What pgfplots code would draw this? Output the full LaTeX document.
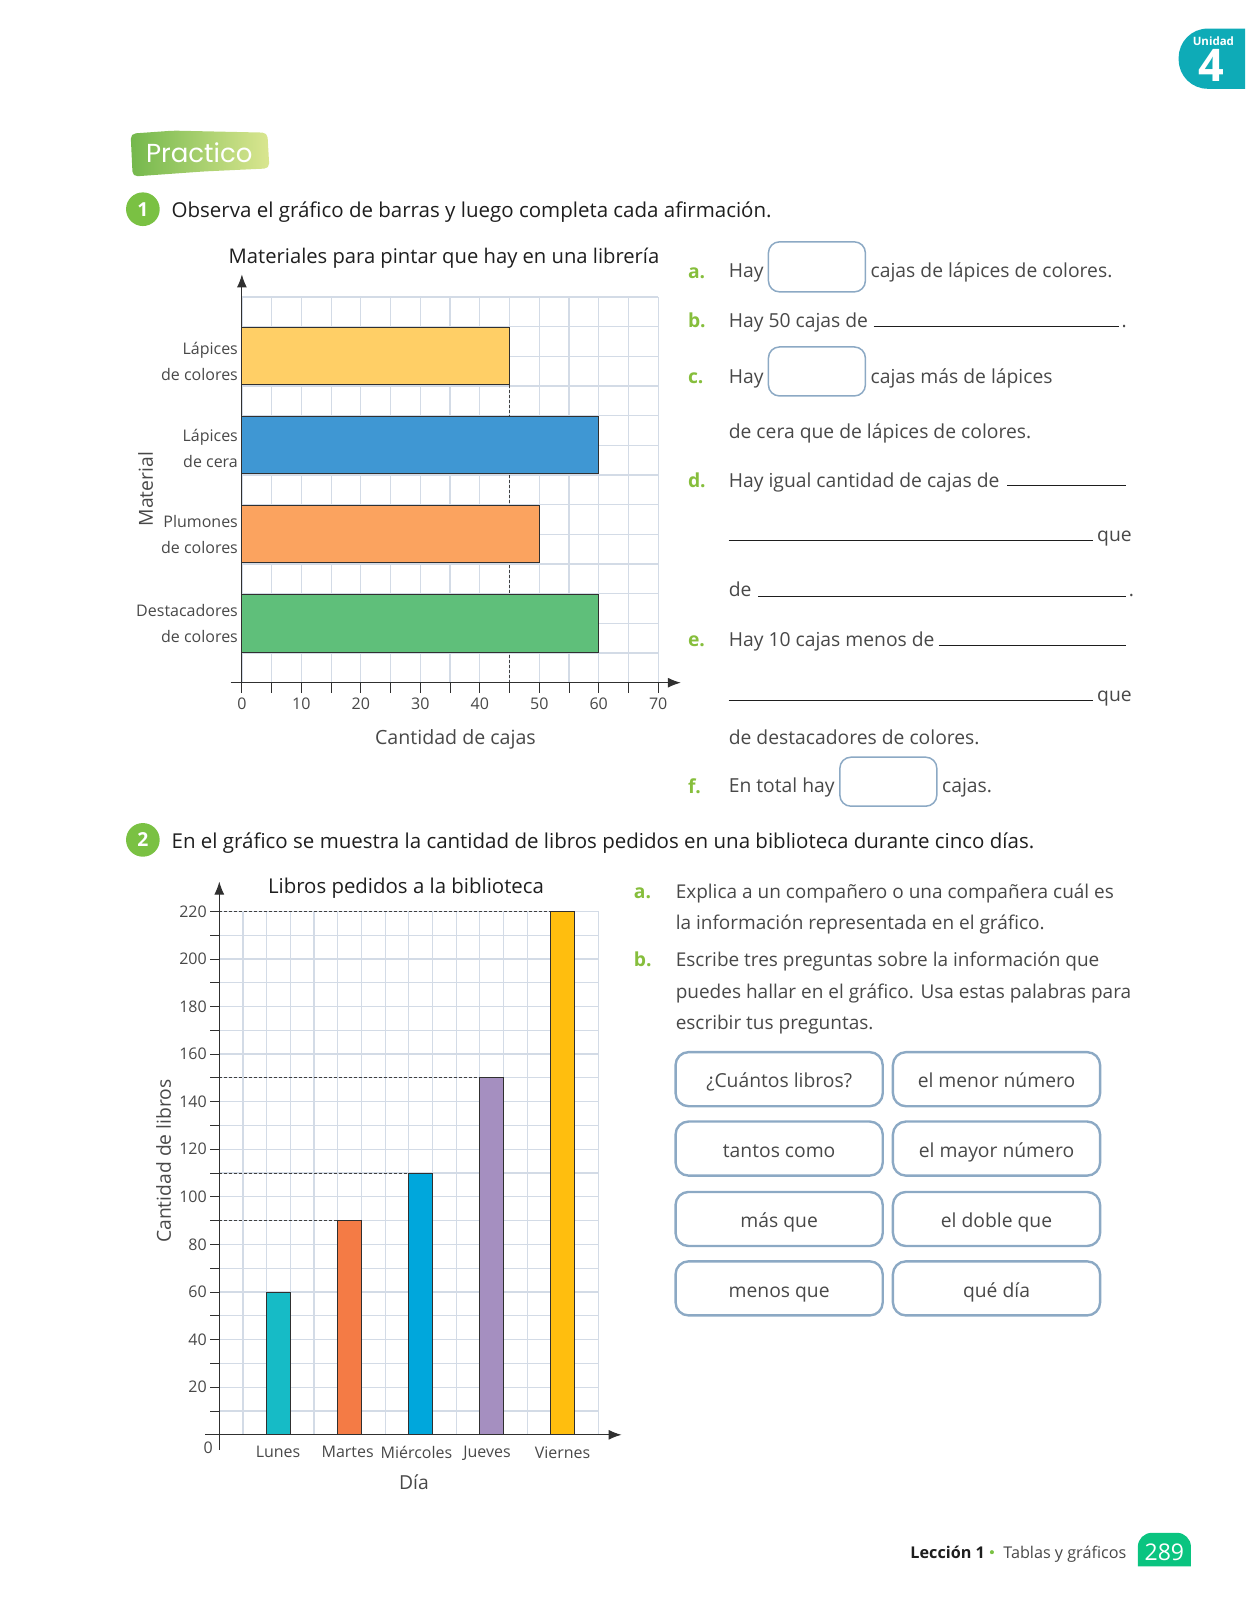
\documentclass[border=0pt]{standalone}
\usepackage{fontspec}
\setmainfont{Open Sans}
\newfontfamily\pop{Poppins}
\usepackage{pgfplots}
\pgfplotsset{compat=1.18}
\usetikzlibrary{arrows.meta}
\definecolor{txt}{HTML}{484848}
\definecolor{blk}{HTML}{1E1E1E}
\definecolor{grn}{HTML}{7AC143}
\definecolor{lab}{HTML}{86BE3C}
\definecolor{gridc}{HTML}{D3DBE6}
\definecolor{edge}{HTML}{8CA9C4}
\definecolor{tabc}{HTML}{0EABB7}
\definecolor{axc}{HTML}{303030}
\definecolor{ya}{HTML}{FFCF66}
\definecolor{bl}{HTML}{3F97D3}
\definecolor{oa}{HTML}{FBA35F}
\definecolor{gb}{HTML}{5FBF7A}
\definecolor{c1}{HTML}{16BBC6}
\definecolor{c2}{HTML}{F47B45}
\definecolor{c3}{HTML}{00A7DC}
\definecolor{c4}{HTML}{A58FC0}
\definecolor{c5}{HTML}{FFBE0E}
\definecolor{pl}{HTML}{74B84C}
\definecolor{pr}{HTML}{DAE690}
\newcommand\fb{\fontsize{19.3}{24}\selectfont}
\newcommand\fc{\fontsize{19}{24}\selectfont}
\newcommand\fh{\fontsize{20.5}{24}\selectfont}
\newcommand\ft{\fontsize{16}{25.5}\selectfont}
\newcommand\T[3]{\node[anchor=base west,inner sep=0pt,text=txt,font=\fb] at (#1,{#2+1}) {#3};}
\newcommand\Tc[3]{\node[anchor=base west,inner sep=0pt,text=txt,font=\fc] at (#1,#2) {#3};}
\newcommand\B[3]{\node[anchor=base west,inner sep=0pt,text=blk,font=\fh] at (#1,{#2+1}) {#3};}
\newcommand\Lt[3]{\node[anchor=base west,inner sep=0pt,text=lab,font=\fb\bfseries] at (#1,{#2+1}) {#3};}
\newcommand\Ln[3]{\draw[blk,line width=0.9pt] (#1,#3)--(#2,#3);}
\newcommand\Bx[4]{\draw[edge,line width=1.5pt,rounded corners=11pt] (#1,#3) rectangle (#2,#4);}
\newcommand\Btn[5]{\draw[edge,line width=2.4pt,rounded corners=13pt] (#1,#3) rectangle (#2,#4);
  \node[text=txt,font=\fb,inner sep=0pt,anchor=base] at ({(#1+#2)/2},#4-18) {#5};}
\begin{document}
\begin{tikzpicture}
\path (0pt,0pt) rectangle (1245pt,-1600pt);
\begin{scope}[x=1.0205pt,y=-1.0205pt]
% tab
\fill[tabc] (1220,28) [rounded corners=29pt] -- (1155,28) -- (1155,87) [sharp corners] -- (1220,87) -- cycle;
\node[text=white,font=\fontsize{11.5}{13}\selectfont\bfseries,anchor=base,inner sep=0pt] at (1189,45) {Unidad};
\node[text=white,font=\fontsize{45}{46}\selectfont\bfseries,anchor=base,inner sep=0pt] at (1187,80) {4};
% practico
\shade[left color=pl,right color=pr,rounded corners=5pt] (128,131) -- (170,128) -- (262,130) -- (264,165) -- (200,168) -- (130,173) -- cycle;
\node[text=white,font=\pop\fontsize{26}{30}\selectfont,anchor=base west,inner sep=0pt] at (143,159) {Practico};
% section heads
\fill[grn] (140,205) circle (16.5);
\node[text=white,font=\fb\bfseries,anchor=center] at (140,205) {1};
\B{168}{212}{Observa el gráfico de barras y luego completa cada afirmación.}
\fill[grn] (140,823) circle (16.5);
\node[text=white,font=\fb\bfseries,anchor=center] at (140,823) {2};
\B{168}{830}{En el gráfico se muestra la cantidad de libros pedidos en una biblioteca durante cinco días.}
% right col 1
\Lt{674}{272}{a.}\T{714}{271}{Hay}\Bx{753}{848}{237}{286}\T{853}{271}{cajas de lápices de colores.}
\Lt{674}{320}{b.}\T{714}{320}{Hay 50 cajas de}\Ln{856}{1097}{320}\T{1099}{320}{.}
\Lt{674}{375}{c.}\T{714}{375}{Hay}\Bx{753}{848}{340}{388}\T{853}{375}{cajas más de lápices}
\T{714}{429}{de cera que de lápices de colores.}
\Lt{674}{477}{d.}\T{714}{477}{Hay igual cantidad de cajas de}\Ln{987}{1103}{476}
\Ln{714}{1071}{530}\T{1075}{530}{que}
\T{714}{584}{de}\Ln{743}{1103}{584}\T{1106}{584}{.}
\Lt{674}{633}{e.}\T{714}{633}{Hay 10 cajas menos de}\Ln{920}{1103}{632}
\Ln{714}{1071}{686}\T{1075}{686}{que}
\T{714}{729}{de destacadores de colores.}
\Lt{674}{777}{f.}\T{714}{776}{En total hay}\Bx{823}{918}{742}{790}\T{923}{776}{cajas.}
% right col 2
\Lt{621}{879}{a.}\Tc{662}{880}{Explica a un compañero o una compañera cuál es}
\Tc{662}{911}{la información representada en el gráfico.}
\Lt{621}{946}{b.}\Tc{662}{947}{Escribe tres preguntas sobre la información que}
\Tc{662}{978}{puedes hallar en el gráfico. Usa estas palabras para}
\Tc{662}{1009}{escribir tus preguntas.}
\Btn{662}{865}{1031}{1084}{¿Cuántos libros?}
\Btn{875}{1078}{1031}{1084}{el menor número}
\Btn{662}{865}{1099}{1152}{tantos como}
\Btn{875}{1078}{1099}{1152}{el mayor número}
\Btn{662}{865}{1168}{1221}{más que}
\Btn{875}{1078}{1168}{1221}{el doble que}
\Btn{662}{865}{1236}{1289}{menos que}
\Btn{875}{1078}{1236}{1289}{qué día}
% footer
\node[anchor=base west,inner sep=0pt,text=blk,font=\fontsize{16.2}{20}\selectfont\bfseries] at (892,1527) {Lección 1};
\fill[grn] (972,1521) circle (2);
\node[anchor=base west,inner sep=0pt,text=txt,font=\fontsize{16.2}{20}\selectfont] at (983,1527) {Tablas y gráficos};
\fill[tabc!70!green] (1115,1535) [rounded corners=14pt] -- (1115,1502) -- (1167,1502) [sharp corners] -- (1167,1535) -- cycle;
\node[text=white,font=\fontsize{23}{24}\selectfont,anchor=base] at (1141,1529) {289};
\end{scope}

% ---------- chart 1
\begin{axis}[
  at={(241.9pt,-682.7pt)},anchor=south west,scale only axis,
  width=416.3pt,height=385.7pt,clip=false,
  xmin=0,xmax=70,ymin=0,ymax=13,
  axis x line=bottom,axis y line=left,axis line style={-,axc,line width=1pt},
  xtick={0,10,...,70},minor xtick={5,15,...,65},
  ytick={2,5,7.9,10.83},minor ytick={0,...,13},
  yticklabels={{Destacadores\\de colores},{Plumones\\de colores},{Lápices\\de cera},{Lápices\\de colores}},
  xmajorgrids,xminorgrids,yminorgrids,
  major grid style={gridc,line width=1.2pt},minor grid style={gridc,line width=1.2pt},
  tick align=outside,major tick length=10pt,minor tick length=10pt,
  x tick style={axc,line width=0.9pt},minor x tick style={axc,line width=0.9pt},
  y tick style={draw=none},minor y tick style={draw=none},
  /pgf/number format/assume math mode=true,
  tick label style={font=\ft,text=txt},
  xticklabel style={yshift=-2pt},
  yticklabel style={align=right,xshift=9.5pt},
  every axis title shift=0pt,
  title={Materiales para pintar que hay en una librería},
  title style={font=\fontsize{20.2}{24}\selectfont,text=blk,at={(axis description cs:0.4855,1.088)},anchor=base,inner sep=0pt},
  xlabel={Cantidad de cajas},
  xlabel style={font=\fontsize{19.6}{24}\selectfont,text=txt,at={(axis description cs:0.513,-0.1615)},anchor=base,inner sep=0pt},
  ylabel={Material},
  ylabel style={font=\fb,text=txt,at={(axis description cs:-0.2137,0.502)},anchor=base,inner sep=0pt},
]
\addplot[black!75,densely dashed,line width=0.8pt,forget plot] coordinates {(45,0)(45,11)};
\addplot[xbar,bar shift=0pt,bar width=1.92,fill=ya,draw=axc,line width=1pt] coordinates {(45,11)};
\addplot[xbar,bar shift=0pt,bar width=1.92,fill=bl,draw=axc,line width=1pt] coordinates {(60,8)};
\addplot[xbar,bar shift=0pt,bar width=1.92,fill=oa,draw=axc,line width=1pt] coordinates {(50,5)};
\addplot[xbar,bar shift=0pt,bar width=1.96,fill=gb,draw=axc,line width=1pt] coordinates {(60,2)};
\draw[axc,line width=1pt,-{Latex[length=13pt,width=10pt]}] (axis cs:-1.9,0)--(axis cs:73.8,0);
\draw[axc,line width=1pt,-{Latex[length=13pt,width=10pt]}] (axis cs:0,0)--(axis cs:0,13.76);
\end{axis}

% ---------- chart 2
\begin{axis}[
  at={(219.3pt,-1434.8pt)},anchor=south west,scale only axis,
  width=379pt,height=523.5pt,clip=false,
  xmin=0,xmax=16,ymin=0,ymax=220,
  axis x line=bottom,axis y line=left,axis line style={-,axc,line width=1pt},
  xtick={2.48,5.42,8.32,11.3,14.49},
  xticklabels={Lunes,Martes,Miércoles,Jueves,Viernes},
  minor xtick={0,...,16},
  ytick={20,40,...,220},minor ytick={10,30,...,210},
  xminorgrids,ymajorgrids,yminorgrids,
  major grid style={gridc,line width=1.2pt},minor grid style={gridc,line width=1.2pt},
  tick align=outside,major tick length=9pt,minor tick length=9pt,
  x tick style={draw=none},minor x tick style={draw=none},
  y tick style={axc,line width=0.8pt},minor y tick style={axc,line width=0.8pt},
  /pgf/number format/assume math mode=true,
  tick label style={font=\ft,text=txt},
  xticklabel style={yshift=1pt},
  every axis title shift=0pt,
  title={Libros pedidos a la biblioteca},
  title style={font=\fontsize{20.4}{24}\selectfont,text=blk,at={(axis description cs:0.4926,1.0349)},anchor=base,inner sep=0pt},
  xlabel={Día},
  xlabel style={font=\fb,text=txt,at={(axis description cs:0.5137,-0.1035)},anchor=base,inner sep=0pt},
  ylabel={Cantidad de libros},
  ylabel style={font=\fb,text=txt,at={(axis description cs:-0.128,0.523)},anchor=base,inner sep=0pt},
]
\addplot[black!75,densely dashed,line width=0.8pt,forget plot] coordinates {(0,220)(14,220)};
\addplot[black!75,densely dashed,line width=0.8pt,forget plot] coordinates {(0,150)(11,150)};
\addplot[black!75,densely dashed,line width=0.8pt,forget plot] coordinates {(0,110)(8,110)};
\addplot[black!75,densely dashed,line width=0.8pt,forget plot] coordinates {(0,90)(5,90)};
\addplot[ybar,bar shift=0pt,bar width=1,fill=c1,draw=axc,line width=1pt] coordinates {(2.5,60)};
\addplot[ybar,bar shift=0pt,bar width=1,fill=c2,draw=axc,line width=1pt] coordinates {(5.5,90)};
\addplot[ybar,bar shift=0pt,bar width=1,fill=c3,draw=axc,line width=1pt] coordinates {(8.5,110)};
\addplot[ybar,bar shift=0pt,bar width=1,fill=c4,draw=axc,line width=1pt] coordinates {(11.5,150)};
\addplot[ybar,bar shift=0pt,bar width=1,fill=c5,draw=axc,line width=1pt] coordinates {(14.5,220)};
\draw[axc,line width=1pt,-{Latex[length=13pt,width=10pt]}] (axis cs:-0.6,0)--(axis cs:16.98,0);
\draw[axc,line width=1pt,-{Latex[length=13pt,width=10pt]}] (axis cs:0,-6.3)--(axis cs:0,232.5);
\node[font=\ft,text=txt,inner sep=0pt] at (axis cs:-0.47,-5.5) {0};
\end{axis}
\end{tikzpicture}
\end{document}
